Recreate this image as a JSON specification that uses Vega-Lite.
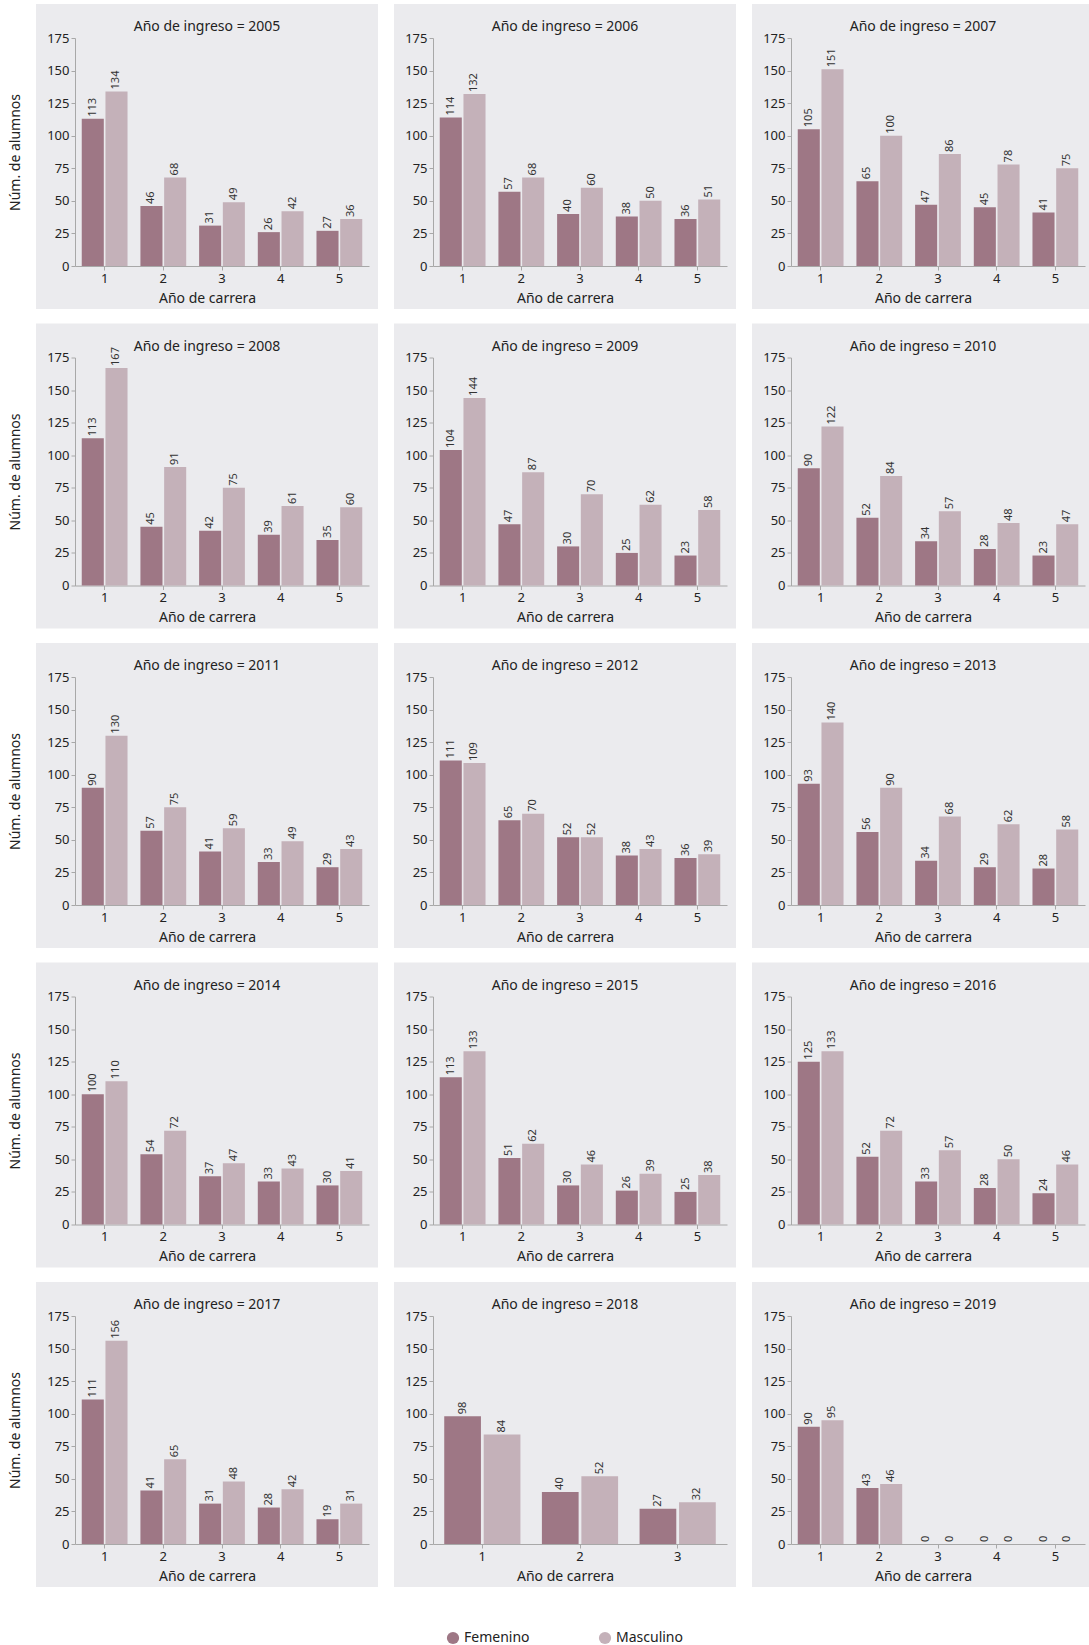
{
"$schema": "https://vega.github.io/schema/vega-lite/v6.json",
"padding": {"left": 8, "top": 4, "right": 0, "bottom": 0},
"background": "white",
"datasets": {"d": [
{"i":2005,"c":1,"s":"Femenino","n":113},{"i":2005,"c":2,"s":"Femenino","n":46},{"i":2005,"c":3,"s":"Femenino","n":31},{"i":2005,"c":4,"s":"Femenino","n":26},{"i":2005,"c":5,"s":"Femenino","n":27},
{"i":2005,"c":1,"s":"Masculino","n":134},{"i":2005,"c":2,"s":"Masculino","n":68},{"i":2005,"c":3,"s":"Masculino","n":49},{"i":2005,"c":4,"s":"Masculino","n":42},{"i":2005,"c":5,"s":"Masculino","n":36},
{"i":2006,"c":1,"s":"Femenino","n":114},{"i":2006,"c":2,"s":"Femenino","n":57},{"i":2006,"c":3,"s":"Femenino","n":40},{"i":2006,"c":4,"s":"Femenino","n":38},{"i":2006,"c":5,"s":"Femenino","n":36},
{"i":2006,"c":1,"s":"Masculino","n":132},{"i":2006,"c":2,"s":"Masculino","n":68},{"i":2006,"c":3,"s":"Masculino","n":60},{"i":2006,"c":4,"s":"Masculino","n":50},{"i":2006,"c":5,"s":"Masculino","n":51},
{"i":2007,"c":1,"s":"Femenino","n":105},{"i":2007,"c":2,"s":"Femenino","n":65},{"i":2007,"c":3,"s":"Femenino","n":47},{"i":2007,"c":4,"s":"Femenino","n":45},{"i":2007,"c":5,"s":"Femenino","n":41},
{"i":2007,"c":1,"s":"Masculino","n":151},{"i":2007,"c":2,"s":"Masculino","n":100},{"i":2007,"c":3,"s":"Masculino","n":86},{"i":2007,"c":4,"s":"Masculino","n":78},{"i":2007,"c":5,"s":"Masculino","n":75},
{"i":2008,"c":1,"s":"Femenino","n":113},{"i":2008,"c":2,"s":"Femenino","n":45},{"i":2008,"c":3,"s":"Femenino","n":42},{"i":2008,"c":4,"s":"Femenino","n":39},{"i":2008,"c":5,"s":"Femenino","n":35},
{"i":2008,"c":1,"s":"Masculino","n":167},{"i":2008,"c":2,"s":"Masculino","n":91},{"i":2008,"c":3,"s":"Masculino","n":75},{"i":2008,"c":4,"s":"Masculino","n":61},{"i":2008,"c":5,"s":"Masculino","n":60},
{"i":2009,"c":1,"s":"Femenino","n":104},{"i":2009,"c":2,"s":"Femenino","n":47},{"i":2009,"c":3,"s":"Femenino","n":30},{"i":2009,"c":4,"s":"Femenino","n":25},{"i":2009,"c":5,"s":"Femenino","n":23},
{"i":2009,"c":1,"s":"Masculino","n":144},{"i":2009,"c":2,"s":"Masculino","n":87},{"i":2009,"c":3,"s":"Masculino","n":70},{"i":2009,"c":4,"s":"Masculino","n":62},{"i":2009,"c":5,"s":"Masculino","n":58},
{"i":2010,"c":1,"s":"Femenino","n":90},{"i":2010,"c":2,"s":"Femenino","n":52},{"i":2010,"c":3,"s":"Femenino","n":34},{"i":2010,"c":4,"s":"Femenino","n":28},{"i":2010,"c":5,"s":"Femenino","n":23},
{"i":2010,"c":1,"s":"Masculino","n":122},{"i":2010,"c":2,"s":"Masculino","n":84},{"i":2010,"c":3,"s":"Masculino","n":57},{"i":2010,"c":4,"s":"Masculino","n":48},{"i":2010,"c":5,"s":"Masculino","n":47},
{"i":2011,"c":1,"s":"Femenino","n":90},{"i":2011,"c":2,"s":"Femenino","n":57},{"i":2011,"c":3,"s":"Femenino","n":41},{"i":2011,"c":4,"s":"Femenino","n":33},{"i":2011,"c":5,"s":"Femenino","n":29},
{"i":2011,"c":1,"s":"Masculino","n":130},{"i":2011,"c":2,"s":"Masculino","n":75},{"i":2011,"c":3,"s":"Masculino","n":59},{"i":2011,"c":4,"s":"Masculino","n":49},{"i":2011,"c":5,"s":"Masculino","n":43},
{"i":2012,"c":1,"s":"Femenino","n":111},{"i":2012,"c":2,"s":"Femenino","n":65},{"i":2012,"c":3,"s":"Femenino","n":52},{"i":2012,"c":4,"s":"Femenino","n":38},{"i":2012,"c":5,"s":"Femenino","n":36},
{"i":2012,"c":1,"s":"Masculino","n":109},{"i":2012,"c":2,"s":"Masculino","n":70},{"i":2012,"c":3,"s":"Masculino","n":52},{"i":2012,"c":4,"s":"Masculino","n":43},{"i":2012,"c":5,"s":"Masculino","n":39},
{"i":2013,"c":1,"s":"Femenino","n":93},{"i":2013,"c":2,"s":"Femenino","n":56},{"i":2013,"c":3,"s":"Femenino","n":34},{"i":2013,"c":4,"s":"Femenino","n":29},{"i":2013,"c":5,"s":"Femenino","n":28},
{"i":2013,"c":1,"s":"Masculino","n":140},{"i":2013,"c":2,"s":"Masculino","n":90},{"i":2013,"c":3,"s":"Masculino","n":68},{"i":2013,"c":4,"s":"Masculino","n":62},{"i":2013,"c":5,"s":"Masculino","n":58},
{"i":2014,"c":1,"s":"Femenino","n":100},{"i":2014,"c":2,"s":"Femenino","n":54},{"i":2014,"c":3,"s":"Femenino","n":37},{"i":2014,"c":4,"s":"Femenino","n":33},{"i":2014,"c":5,"s":"Femenino","n":30},
{"i":2014,"c":1,"s":"Masculino","n":110},{"i":2014,"c":2,"s":"Masculino","n":72},{"i":2014,"c":3,"s":"Masculino","n":47},{"i":2014,"c":4,"s":"Masculino","n":43},{"i":2014,"c":5,"s":"Masculino","n":41},
{"i":2015,"c":1,"s":"Femenino","n":113},{"i":2015,"c":2,"s":"Femenino","n":51},{"i":2015,"c":3,"s":"Femenino","n":30},{"i":2015,"c":4,"s":"Femenino","n":26},{"i":2015,"c":5,"s":"Femenino","n":25},
{"i":2015,"c":1,"s":"Masculino","n":133},{"i":2015,"c":2,"s":"Masculino","n":62},{"i":2015,"c":3,"s":"Masculino","n":46},{"i":2015,"c":4,"s":"Masculino","n":39},{"i":2015,"c":5,"s":"Masculino","n":38},
{"i":2016,"c":1,"s":"Femenino","n":125},{"i":2016,"c":2,"s":"Femenino","n":52},{"i":2016,"c":3,"s":"Femenino","n":33},{"i":2016,"c":4,"s":"Femenino","n":28},{"i":2016,"c":5,"s":"Femenino","n":24},
{"i":2016,"c":1,"s":"Masculino","n":133},{"i":2016,"c":2,"s":"Masculino","n":72},{"i":2016,"c":3,"s":"Masculino","n":57},{"i":2016,"c":4,"s":"Masculino","n":50},{"i":2016,"c":5,"s":"Masculino","n":46},
{"i":2017,"c":1,"s":"Femenino","n":111},{"i":2017,"c":2,"s":"Femenino","n":41},{"i":2017,"c":3,"s":"Femenino","n":31},{"i":2017,"c":4,"s":"Femenino","n":28},{"i":2017,"c":5,"s":"Femenino","n":19},
{"i":2017,"c":1,"s":"Masculino","n":156},{"i":2017,"c":2,"s":"Masculino","n":65},{"i":2017,"c":3,"s":"Masculino","n":48},{"i":2017,"c":4,"s":"Masculino","n":42},{"i":2017,"c":5,"s":"Masculino","n":31},
{"i":2018,"c":1,"s":"Femenino","n":98},{"i":2018,"c":2,"s":"Femenino","n":40},{"i":2018,"c":3,"s":"Femenino","n":27},
{"i":2018,"c":1,"s":"Masculino","n":84},{"i":2018,"c":2,"s":"Masculino","n":52},{"i":2018,"c":3,"s":"Masculino","n":32},
{"i":2019,"c":1,"s":"Femenino","n":90},{"i":2019,"c":2,"s":"Femenino","n":43},{"i":2019,"c":3,"s":"Femenino","n":0},{"i":2019,"c":4,"s":"Femenino","n":0},{"i":2019,"c":5,"s":"Femenino","n":0},
{"i":2019,"c":1,"s":"Masculino","n":95},{"i":2019,"c":2,"s":"Masculino","n":46},{"i":2019,"c":3,"s":"Masculino","n":0},{"i":2019,"c":4,"s":"Masculino","n":0},{"i":2019,"c":5,"s":"Masculino","n":0}
]},
"data": {"name": "d"},
"columns": 3,
"spacing": {"row": 14.5, "column": 16},
"bounds": "flush",
"resolve": {"scale": {"xOffset": "independent"}},
"concat": [
{"title": "Año de ingreso = 2005", "transform": [{"filter": "datum.i == 2005"}], "width": 342, "height": 305,
 "encoding": {"x": {"field": "c", "type": "ordinal", "scale": {"range": [39, 333], "paddingInner": 0.22, "paddingOuter": 0.115}, "axis": {"title": "Año de carrera"}},
  "xOffset": {"field": "s", "scale": {"paddingInner": 0.07, "paddingOuter": 0}},
  "y": {"field": "n", "type": "quantitative", "scale": {"domain": [0, 175], "nice": false, "range": [262, 34]}, "axis": {"title": "Núm. de alumnos", "values": [0,25,50,75,100,125,150,175]}},
  "color": {"field": "s", "type": "nominal", "scale": {"domain": ["Femenino", "Masculino"], "range": ["#9e7785", "#c4b1b9"]}, "title": null}},
 "layer": [{"mark": "bar"}, {"mark": {"type": "text", "angle": 270, "align": "left", "baseline": "middle", "dx": 2, "fontSize": 11}, "encoding": {"text": {"field": "n"}, "color": {"value": "#333333"}}}]},
{"title": "Año de ingreso = 2006", "transform": [{"filter": "datum.i == 2006"}], "width": 342, "height": 305,
 "encoding": {"x": {"field": "c", "type": "ordinal", "scale": {"range": [39, 333], "paddingInner": 0.22, "paddingOuter": 0.115}, "axis": {"title": "Año de carrera"}},
  "xOffset": {"field": "s", "scale": {"paddingInner": 0.07, "paddingOuter": 0}},
  "y": {"field": "n", "type": "quantitative", "scale": {"domain": [0, 175], "nice": false, "range": [262, 34]}, "axis": {"title": null, "values": [0,25,50,75,100,125,150,175]}},
  "color": {"field": "s", "type": "nominal", "scale": {"domain": ["Femenino", "Masculino"], "range": ["#9e7785", "#c4b1b9"]}, "title": null}},
 "layer": [{"mark": "bar"}, {"mark": {"type": "text", "angle": 270, "align": "left", "baseline": "middle", "dx": 2, "fontSize": 11}, "encoding": {"text": {"field": "n"}, "color": {"value": "#333333"}}}]},
{"title": "Año de ingreso = 2007", "transform": [{"filter": "datum.i == 2007"}], "width": 342, "height": 305,
 "encoding": {"x": {"field": "c", "type": "ordinal", "scale": {"range": [39, 333], "paddingInner": 0.22, "paddingOuter": 0.115}, "axis": {"title": "Año de carrera"}},
  "xOffset": {"field": "s", "scale": {"paddingInner": 0.07, "paddingOuter": 0}},
  "y": {"field": "n", "type": "quantitative", "scale": {"domain": [0, 175], "nice": false, "range": [262, 34]}, "axis": {"title": null, "values": [0,25,50,75,100,125,150,175]}},
  "color": {"field": "s", "type": "nominal", "scale": {"domain": ["Femenino", "Masculino"], "range": ["#9e7785", "#c4b1b9"]}, "title": null}},
 "layer": [{"mark": "bar"}, {"mark": {"type": "text", "angle": 270, "align": "left", "baseline": "middle", "dx": 2, "fontSize": 11}, "encoding": {"text": {"field": "n"}, "color": {"value": "#333333"}}}]},
{"title": "Año de ingreso = 2008", "transform": [{"filter": "datum.i == 2008"}], "width": 342, "height": 305,
 "encoding": {"x": {"field": "c", "type": "ordinal", "scale": {"range": [39, 333], "paddingInner": 0.22, "paddingOuter": 0.115}, "axis": {"title": "Año de carrera"}},
  "xOffset": {"field": "s", "scale": {"paddingInner": 0.07, "paddingOuter": 0}},
  "y": {"field": "n", "type": "quantitative", "scale": {"domain": [0, 175], "nice": false, "range": [262, 34]}, "axis": {"title": "Núm. de alumnos", "values": [0,25,50,75,100,125,150,175]}},
  "color": {"field": "s", "type": "nominal", "scale": {"domain": ["Femenino", "Masculino"], "range": ["#9e7785", "#c4b1b9"]}, "title": null}},
 "layer": [{"mark": "bar"}, {"mark": {"type": "text", "angle": 270, "align": "left", "baseline": "middle", "dx": 2, "fontSize": 11}, "encoding": {"text": {"field": "n"}, "color": {"value": "#333333"}}}]},
{"title": "Año de ingreso = 2009", "transform": [{"filter": "datum.i == 2009"}], "width": 342, "height": 305,
 "encoding": {"x": {"field": "c", "type": "ordinal", "scale": {"range": [39, 333], "paddingInner": 0.22, "paddingOuter": 0.115}, "axis": {"title": "Año de carrera"}},
  "xOffset": {"field": "s", "scale": {"paddingInner": 0.07, "paddingOuter": 0}},
  "y": {"field": "n", "type": "quantitative", "scale": {"domain": [0, 175], "nice": false, "range": [262, 34]}, "axis": {"title": null, "values": [0,25,50,75,100,125,150,175]}},
  "color": {"field": "s", "type": "nominal", "scale": {"domain": ["Femenino", "Masculino"], "range": ["#9e7785", "#c4b1b9"]}, "title": null}},
 "layer": [{"mark": "bar"}, {"mark": {"type": "text", "angle": 270, "align": "left", "baseline": "middle", "dx": 2, "fontSize": 11}, "encoding": {"text": {"field": "n"}, "color": {"value": "#333333"}}}]},
{"title": "Año de ingreso = 2010", "transform": [{"filter": "datum.i == 2010"}], "width": 342, "height": 305,
 "encoding": {"x": {"field": "c", "type": "ordinal", "scale": {"range": [39, 333], "paddingInner": 0.22, "paddingOuter": 0.115}, "axis": {"title": "Año de carrera"}},
  "xOffset": {"field": "s", "scale": {"paddingInner": 0.07, "paddingOuter": 0}},
  "y": {"field": "n", "type": "quantitative", "scale": {"domain": [0, 175], "nice": false, "range": [262, 34]}, "axis": {"title": null, "values": [0,25,50,75,100,125,150,175]}},
  "color": {"field": "s", "type": "nominal", "scale": {"domain": ["Femenino", "Masculino"], "range": ["#9e7785", "#c4b1b9"]}, "title": null}},
 "layer": [{"mark": "bar"}, {"mark": {"type": "text", "angle": 270, "align": "left", "baseline": "middle", "dx": 2, "fontSize": 11}, "encoding": {"text": {"field": "n"}, "color": {"value": "#333333"}}}]},
{"title": "Año de ingreso = 2011", "transform": [{"filter": "datum.i == 2011"}], "width": 342, "height": 305,
 "encoding": {"x": {"field": "c", "type": "ordinal", "scale": {"range": [39, 333], "paddingInner": 0.22, "paddingOuter": 0.115}, "axis": {"title": "Año de carrera"}},
  "xOffset": {"field": "s", "scale": {"paddingInner": 0.07, "paddingOuter": 0}},
  "y": {"field": "n", "type": "quantitative", "scale": {"domain": [0, 175], "nice": false, "range": [262, 34]}, "axis": {"title": "Núm. de alumnos", "values": [0,25,50,75,100,125,150,175]}},
  "color": {"field": "s", "type": "nominal", "scale": {"domain": ["Femenino", "Masculino"], "range": ["#9e7785", "#c4b1b9"]}, "title": null}},
 "layer": [{"mark": "bar"}, {"mark": {"type": "text", "angle": 270, "align": "left", "baseline": "middle", "dx": 2, "fontSize": 11}, "encoding": {"text": {"field": "n"}, "color": {"value": "#333333"}}}]},
{"title": "Año de ingreso = 2012", "transform": [{"filter": "datum.i == 2012"}], "width": 342, "height": 305,
 "encoding": {"x": {"field": "c", "type": "ordinal", "scale": {"range": [39, 333], "paddingInner": 0.22, "paddingOuter": 0.115}, "axis": {"title": "Año de carrera"}},
  "xOffset": {"field": "s", "scale": {"paddingInner": 0.07, "paddingOuter": 0}},
  "y": {"field": "n", "type": "quantitative", "scale": {"domain": [0, 175], "nice": false, "range": [262, 34]}, "axis": {"title": null, "values": [0,25,50,75,100,125,150,175]}},
  "color": {"field": "s", "type": "nominal", "scale": {"domain": ["Femenino", "Masculino"], "range": ["#9e7785", "#c4b1b9"]}, "title": null}},
 "layer": [{"mark": "bar"}, {"mark": {"type": "text", "angle": 270, "align": "left", "baseline": "middle", "dx": 2, "fontSize": 11}, "encoding": {"text": {"field": "n"}, "color": {"value": "#333333"}}}]},
{"title": "Año de ingreso = 2013", "transform": [{"filter": "datum.i == 2013"}], "width": 342, "height": 305,
 "encoding": {"x": {"field": "c", "type": "ordinal", "scale": {"range": [39, 333], "paddingInner": 0.22, "paddingOuter": 0.115}, "axis": {"title": "Año de carrera"}},
  "xOffset": {"field": "s", "scale": {"paddingInner": 0.07, "paddingOuter": 0}},
  "y": {"field": "n", "type": "quantitative", "scale": {"domain": [0, 175], "nice": false, "range": [262, 34]}, "axis": {"title": null, "values": [0,25,50,75,100,125,150,175]}},
  "color": {"field": "s", "type": "nominal", "scale": {"domain": ["Femenino", "Masculino"], "range": ["#9e7785", "#c4b1b9"]}, "title": null}},
 "layer": [{"mark": "bar"}, {"mark": {"type": "text", "angle": 270, "align": "left", "baseline": "middle", "dx": 2, "fontSize": 11}, "encoding": {"text": {"field": "n"}, "color": {"value": "#333333"}}}]},
{"title": "Año de ingreso = 2014", "transform": [{"filter": "datum.i == 2014"}], "width": 342, "height": 305,
 "encoding": {"x": {"field": "c", "type": "ordinal", "scale": {"range": [39, 333], "paddingInner": 0.22, "paddingOuter": 0.115}, "axis": {"title": "Año de carrera"}},
  "xOffset": {"field": "s", "scale": {"paddingInner": 0.07, "paddingOuter": 0}},
  "y": {"field": "n", "type": "quantitative", "scale": {"domain": [0, 175], "nice": false, "range": [262, 34]}, "axis": {"title": "Núm. de alumnos", "values": [0,25,50,75,100,125,150,175]}},
  "color": {"field": "s", "type": "nominal", "scale": {"domain": ["Femenino", "Masculino"], "range": ["#9e7785", "#c4b1b9"]}, "title": null}},
 "layer": [{"mark": "bar"}, {"mark": {"type": "text", "angle": 270, "align": "left", "baseline": "middle", "dx": 2, "fontSize": 11}, "encoding": {"text": {"field": "n"}, "color": {"value": "#333333"}}}]},
{"title": "Año de ingreso = 2015", "transform": [{"filter": "datum.i == 2015"}], "width": 342, "height": 305,
 "encoding": {"x": {"field": "c", "type": "ordinal", "scale": {"range": [39, 333], "paddingInner": 0.22, "paddingOuter": 0.115}, "axis": {"title": "Año de carrera"}},
  "xOffset": {"field": "s", "scale": {"paddingInner": 0.07, "paddingOuter": 0}},
  "y": {"field": "n", "type": "quantitative", "scale": {"domain": [0, 175], "nice": false, "range": [262, 34]}, "axis": {"title": null, "values": [0,25,50,75,100,125,150,175]}},
  "color": {"field": "s", "type": "nominal", "scale": {"domain": ["Femenino", "Masculino"], "range": ["#9e7785", "#c4b1b9"]}, "title": null}},
 "layer": [{"mark": "bar"}, {"mark": {"type": "text", "angle": 270, "align": "left", "baseline": "middle", "dx": 2, "fontSize": 11}, "encoding": {"text": {"field": "n"}, "color": {"value": "#333333"}}}]},
{"title": "Año de ingreso = 2016", "transform": [{"filter": "datum.i == 2016"}], "width": 342, "height": 305,
 "encoding": {"x": {"field": "c", "type": "ordinal", "scale": {"range": [39, 333], "paddingInner": 0.22, "paddingOuter": 0.115}, "axis": {"title": "Año de carrera"}},
  "xOffset": {"field": "s", "scale": {"paddingInner": 0.07, "paddingOuter": 0}},
  "y": {"field": "n", "type": "quantitative", "scale": {"domain": [0, 175], "nice": false, "range": [262, 34]}, "axis": {"title": null, "values": [0,25,50,75,100,125,150,175]}},
  "color": {"field": "s", "type": "nominal", "scale": {"domain": ["Femenino", "Masculino"], "range": ["#9e7785", "#c4b1b9"]}, "title": null}},
 "layer": [{"mark": "bar"}, {"mark": {"type": "text", "angle": 270, "align": "left", "baseline": "middle", "dx": 2, "fontSize": 11}, "encoding": {"text": {"field": "n"}, "color": {"value": "#333333"}}}]},
{"title": "Año de ingreso = 2017", "transform": [{"filter": "datum.i == 2017"}], "width": 342, "height": 305,
 "encoding": {"x": {"field": "c", "type": "ordinal", "scale": {"range": [39, 333], "paddingInner": 0.22, "paddingOuter": 0.115}, "axis": {"title": "Año de carrera"}},
  "xOffset": {"field": "s", "scale": {"paddingInner": 0.07, "paddingOuter": 0}},
  "y": {"field": "n", "type": "quantitative", "scale": {"domain": [0, 175], "nice": false, "range": [262, 34]}, "axis": {"title": "Núm. de alumnos", "values": [0,25,50,75,100,125,150,175]}},
  "color": {"field": "s", "type": "nominal", "scale": {"domain": ["Femenino", "Masculino"], "range": ["#9e7785", "#c4b1b9"]}, "title": null}},
 "layer": [{"mark": "bar"}, {"mark": {"type": "text", "angle": 270, "align": "left", "baseline": "middle", "dx": 2, "fontSize": 11}, "encoding": {"text": {"field": "n"}, "color": {"value": "#333333"}}}]},
{"title": "Año de ingreso = 2018", "transform": [{"filter": "datum.i == 2018"}], "width": 342, "height": 305,
 "encoding": {"x": {"field": "c", "type": "ordinal", "scale": {"range": [39, 333], "paddingInner": 0.22, "paddingOuter": 0.115}, "axis": {"title": "Año de carrera"}},
  "xOffset": {"field": "s", "scale": {"paddingInner": 0.07, "paddingOuter": 0}},
  "y": {"field": "n", "type": "quantitative", "scale": {"domain": [0, 175], "nice": false, "range": [262, 34]}, "axis": {"title": null, "values": [0,25,50,75,100,125,150,175]}},
  "color": {"field": "s", "type": "nominal", "scale": {"domain": ["Femenino", "Masculino"], "range": ["#9e7785", "#c4b1b9"]}, "title": null}},
 "layer": [{"mark": "bar"}, {"mark": {"type": "text", "angle": 270, "align": "left", "baseline": "middle", "dx": 2, "fontSize": 11}, "encoding": {"text": {"field": "n"}, "color": {"value": "#333333"}}}]},
{"title": "Año de ingreso = 2019", "transform": [{"filter": "datum.i == 2019"}], "width": 342, "height": 305,
 "encoding": {"x": {"field": "c", "type": "ordinal", "scale": {"range": [39, 333], "paddingInner": 0.22, "paddingOuter": 0.115}, "axis": {"title": "Año de carrera"}},
  "xOffset": {"field": "s", "scale": {"paddingInner": 0.07, "paddingOuter": 0}},
  "y": {"field": "n", "type": "quantitative", "scale": {"domain": [0, 175], "nice": false, "range": [262, 34]}, "axis": {"title": null, "values": [0,25,50,75,100,125,150,175]}},
  "color": {"field": "s", "type": "nominal", "scale": {"domain": ["Femenino", "Masculino"], "range": ["#9e7785", "#c4b1b9"]}, "title": null}},
 "layer": [{"mark": "bar"}, {"mark": {"type": "text", "angle": 270, "align": "left", "baseline": "middle", "dx": 2, "fontSize": 11}, "encoding": {"text": {"field": "n"}, "color": {"value": "#333333"}}}]}
],
"config": {
 "font": "Noto Sans",
 "view": {"fill": "#ebebee", "stroke": null},
 "axis": {"grid": false, "domainColor": "#a8a8a8", "tickColor": "#a8a8a8", "tickSize": 4, "labelPadding": 2, "labelFont": "Noto Sans", "labelFontSize": 13, "labelColor": "#222222", "titleFont": "Noto Sans", "titleFontSize": 14, "titleFontWeight": "normal", "titleColor": "#222222"},
 "axisX": {"labelAngle": 0, "offset": -43, "titlePadding": 6, "titleX": 171},
 "axisY": {"offset": -39, "titlePadding": 24},
 "title": {"font": "Noto Sans", "fontSize": 14, "fontWeight": "normal", "color": "#222222", "offset": -30, "frame": "group", "anchor": "middle"},
 "legend": {"orient": "none", "legendX": 410, "legendY": 1627, "direction": "horizontal", "symbolType": "circle", "symbolSize": 150, "symbolStrokeWidth": 0, "symbolOpacity": 1, "labelFont": "Noto Sans", "labelFontSize": 14, "labelColor": "#222222", "columnPadding": 68, "padding": 0}
}
}
